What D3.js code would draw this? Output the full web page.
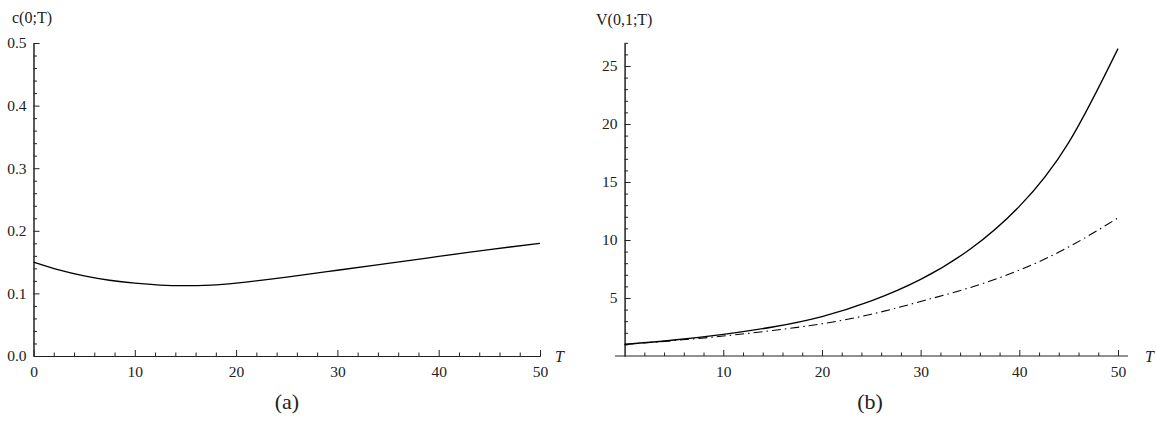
<!DOCTYPE html>
<html>
<head>
<meta charset="utf-8">
<script src="https://cdn.jsdelivr.net/npm/d3@7"></script>
<style>
  body { margin: 0; background: #fff; }
  .axis path, .axis line { stroke: #222; stroke-width: 1; }
</style>
</head>
<body>
<div id="chart"></div>
<script>
var width = 1156,
    height = 425;
var serif = "'Liberation Serif', 'Times New Roman', 'DejaVu Serif', serif";

// panel (a): c(0;T)
var tA = [0, 2.5, 5, 7.5, 10, 12.5, 15, 17.5, 20, 25, 30, 35, 40, 45, 50];
var cA = [0.150, 0.1375, 0.128, 0.121, 0.1163, 0.1133, 0.1123, 0.1133, 0.1165, 0.126, 0.137, 0.148, 0.159, 0.170, 0.180];

// panel (b): V(0,1;T), solid and dash-dot
var tB = [0, 5, 10, 15, 20, 25, 30, 35, 40, 45, 50];
var vSolid = [1.0, 1.38, 1.87, 2.5, 3.4, 4.75, 6.6, 9.2, 12.9, 18.4, 26.5];
var vDash = [1.0, 1.33, 1.72, 2.2, 2.78, 3.6, 4.7, 5.9, 7.4, 9.4, 11.9];

var xTicks = [0, 10, 20, 30, 40, 50];
var xTicksB = [10, 20, 30, 40, 50];
var yTicksA = [0, 0.1, 0.2, 0.3, 0.4, 0.5];
var yTicksB = [5, 10, 15, 20, 25];

var svg = d3.select("#chart").append("svg")
    .attr("width", width)
    .attr("height", height);

var axisBottom = 356;

var styleText = function (sel, size) {
    sel.style("font-family", serif)
        .style("font-size", size + "px")
        .style("fill", "#222");
};

// ---------- panel (a) ----------
var xa = d3.scaleLinear().domain([0, 50]).range([33.5, 540]);
var ya = d3.scaleLinear().domain([0, 0.5]).range([axisBottom, 43]);

var minorX = d3.range(0, 51, 2).filter(function (d) { return d % 10 != 0; });
var minorYA = d3.range(0, 51, 2).map(function (d) { return d / 100; })
    .filter(function (d) { return Math.round(d * 100) % 10 != 0; });

var gA = svg.append("g");

gA.append("g").attr("class", "axis")
    .attr("transform", "translate(0," + axisBottom + ")")
    .call(d3.axisBottom(xa).tickValues(minorX).tickSize(-3.5).tickSizeOuter(0).tickFormat(""));
gA.append("g").attr("class", "axis")
    .attr("transform", "translate(0," + axisBottom + ")")
    .call(d3.axisBottom(xa).tickValues(xTicks).tickSize(-6).tickSizeOuter(0).tickPadding(8).tickFormat(d3.format("d")))
    .selectAll("text").attr("dy", "0.85em").call(styleText, 15.5);

gA.append("g").attr("class", "axis")
    .attr("transform", "translate(" + xa(0) + ",0)")
    .call(d3.axisLeft(ya).tickValues(minorYA).tickSize(-3.5).tickSizeOuter(0).tickFormat(""));
gA.append("g").attr("class", "axis")
    .attr("transform", "translate(" + xa(0) + ",0)")
    .call(d3.axisLeft(ya).tickValues(yTicksA).tickSize(-6).tickSizeOuter(0).tickPadding(7).tickFormat(d3.format(".1f")))
    .selectAll("text").call(styleText, 15.5);

gA.selectAll(".domain").attr("stroke", "#222");

var lineA = d3.line()
    .x(function (d, i) { return xa(tA[i]); })
    .y(function (d) { return ya(d); })
    .curve(d3.curveNatural);

gA.append("path")
    .attr("d", lineA(cA))
    .attr("fill", "none")
    .attr("stroke", "#000")
    .attr("stroke-width", 1.3);

gA.append("text").attr("x", 12).attr("y", 23).call(styleText, 16).text("c(0;T)");
gA.append("text").attr("x", 555).attr("y", 362).call(styleText, 16)
    .style("font-style", "italic").text("T");
gA.append("text").attr("x", 287).attr("y", 409).call(styleText, 22)
    .attr("text-anchor", "middle").text("(a)");

// ---------- panel (b) ----------
var xb = d3.scaleLinear().domain([0, 50]).range([624.6, 1118]);
var yb = d3.scaleLinear().domain([0, 27]).range([axisBottom, 42.8]);

var minorYB = d3.range(1, 28).filter(function (d) { return d % 5 != 0; });

var gB = svg.append("g");

// x axis extends a little to the left of the y axis
gB.append("line")
    .attr("x1", 615).attr("x2", 1128)
    .attr("y1", axisBottom).attr("y2", axisBottom)
    .attr("stroke", "#222");

gB.append("g").attr("class", "axis")
    .attr("transform", "translate(0," + axisBottom + ")")
    .call(d3.axisBottom(xb).tickValues(minorX).tickSize(-3.5).tickSizeOuter(0).tickFormat(""))
    .select(".domain").remove();
gB.append("g").attr("class", "axis")
    .attr("transform", "translate(0," + axisBottom + ")")
    .call(d3.axisBottom(xb).tickValues(xTicksB).tickSize(-6).tickSizeOuter(0).tickPadding(8).tickFormat(d3.format("d")))
    .call(function (g) { g.select(".domain").remove(); })
    .selectAll("text").attr("dy", "0.85em").call(styleText, 15.5);

gB.append("g").attr("class", "axis")
    .attr("transform", "translate(" + xb(0) + ",0)")
    .call(d3.axisLeft(yb).tickValues(minorYB).tickSize(-3.5).tickSizeOuter(0).tickFormat(""));
gB.append("g").attr("class", "axis")
    .attr("transform", "translate(" + xb(0) + ",0)")
    .call(d3.axisLeft(yb).tickValues(yTicksB).tickSize(-6).tickSizeOuter(0).tickPadding(7).tickFormat(d3.format("d")))
    .selectAll("text").call(styleText, 15.5);

gB.selectAll(".domain").attr("stroke", "#222");

var lineB = d3.line()
    .x(function (d, i) { return xb(tB[i]); })
    .y(function (d) { return yb(d); })
    .curve(d3.curveNatural);

gB.append("path")
    .attr("d", lineB(vDash))
    .attr("fill", "none")
    .attr("stroke", "#000")
    .attr("stroke-width", 1.1)
    .attr("stroke-dasharray", "9,4,1.5,4");

gB.append("path")
    .attr("d", lineB(vSolid))
    .attr("fill", "none")
    .attr("stroke", "#000")
    .attr("stroke-width", 1.3);

gB.append("text").attr("x", 596).attr("y", 25).call(styleText, 16).text("V(0,1;T)");
gB.append("text").attr("x", 1145).attr("y", 362).call(styleText, 16)
    .style("font-style", "italic").text("T");
gB.append("text").attr("x", 870).attr("y", 409).call(styleText, 22)
    .attr("text-anchor", "middle").text("(b)");
</script>
</body>
</html>
